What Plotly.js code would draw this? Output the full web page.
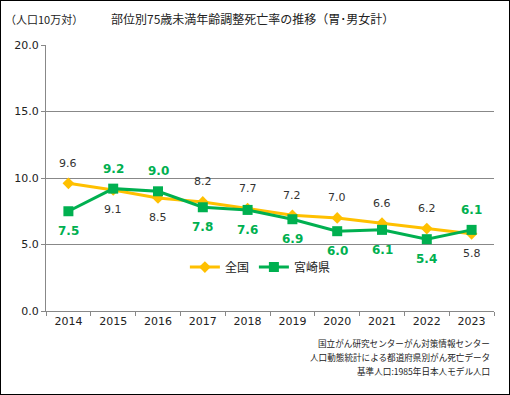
<!DOCTYPE html>
<html><head><meta charset="utf-8">
<script src="https://cdn.plot.ly/plotly-3.0.1.min.js"></script>
<style>
html,body{margin:0;padding:0;background:#fff;}
#wrap{position:relative;width:510px;height:395px;}
#chart{width:510px;height:395px;}
#frame{position:absolute;left:0;top:0;width:510px;height:395px;box-sizing:border-box;border:1px solid #000;pointer-events:none;}
</style></head>
<body>
<div id="wrap"><div id="chart"></div><div id="frame"></div></div>
<script>
const years = ['2014','2015','2016','2017','2018','2019','2020','2021','2022','2023'];
const national = [9.6, 9.1, 8.5, 8.2, 7.7, 7.2, 7.0, 6.6, 6.2, 5.8];
const miyazaki = [7.5, 9.2, 9.0, 7.8, 7.6, 6.9, 6.0, 6.1, 5.4, 6.1];
const nameNational = '全国';
const nameMiyazaki = '宮崎県';
const titleText = '部位別75歳未満年齢調整死亡率の推移（胃･男女計）';
const unitText = '（人口10万対）';
const sourceLines = ['国立がん研究センターがん対策情報センター','人口動態統計による都道府県別がん死亡データ','基準人口:1985年日本人モデル人口'];

// label placement (+1 above, -1 below)
const natSide = [1,-1,-1,1,1,1,1,1,1,-1];
const miySide = [-1,1,1,-1,-1,-1,-1,-1,-1,1];

const jp = '"Noto Sans CJK JP", "DejaVu Sans", sans-serif';
const num = '"DejaVu Sans", Verdana, sans-serif';
const green = '#00B050';
const orange = '#FFC000';

const traces = [
  {x: years, y: national, name: nameNational, type:'scatter', mode:'lines+markers',
   line:{color:orange, width:3}, marker:{symbol:'diamond', size:9, color:orange}},
  {x: years, y: miyazaki, name: nameMiyazaki, type:'scatter', mode:'lines+markers',
   line:{color:green, width:3}, marker:{symbol:'square', size:10, color:green}}
];

const ann = [];
years.forEach((yr,i)=>{
  ann.push({x: i, y: national[i], xref:'x', yref:'y', text: national[i].toFixed(1), showarrow:false,
    yshift: natSide[i]*20, font:{family:num, size:11, color:'#333'}});
  ann.push({x: i, y: miyazaki[i], xref:'x', yref:'y', text: '<b>'+miyazaki[i].toFixed(1)+'</b>', showarrow:false,
    yshift: miySide[i]*20, font:{family:num, size:12, color:green}});
});
ann.push({xref:'paper', yref:'paper', x:0.462, y:1.098, xanchor:'center', yanchor:'middle', showarrow:false,
  text:titleText, font:{family:jp, size:12, color:'#222'}});
ann.push({xref:'paper', yref:'paper', x:-0.095, y:1.098, xanchor:'left', yanchor:'middle', showarrow:false,
  text:unitText, font:{family:jp, size:11, color:'#222'}});
sourceLines.forEach((s,i)=>{
  ann.push({xref:'paper', yref:'paper', x:0.995, y:-0.12 - i*0.053, xanchor:'right', yanchor:'middle', showarrow:false,
    text:s, font:{family:jp, size:8.6, color:'#222'}});
});

const layout = {
  width:510, height:395,
  margin:{l:46, r:16, t:45, b:84},
  paper_bgcolor:'#fff', plot_bgcolor:'#fff',
  showlegend:true,
  legend:{orientation:'h', x:0.31, y:0.165, xanchor:'left', yanchor:'middle',
    font:{family:jp, size:12, color:'#222'}, bgcolor:'rgba(0,0,0,0)', itemwidth:30, tracegroupgap:0},
  xaxis:{type:'category', range:[-0.5, 9.5], tickson:'boundaries', ticks:'outside', ticklen:4, tickcolor:'#888',
    showline:true, linecolor:'#888', linewidth:1, showgrid:false, zeroline:false, tickangle:0,
    tickfont:{family:num, size:11, color:'#222'}, fixedrange:true},
  yaxis:{range:[0,20], dtick:5, tickformat:'.1f', ticks:'outside', ticklen:4, tickcolor:'#888',
    showline:true, linecolor:'#888', linewidth:1, showgrid:true, gridcolor:'#888', gridwidth:1,
    zeroline:false, tickfont:{family:num, size:11, color:'#222'}, fixedrange:true},
  annotations: ann
};
Plotly.newPlot('chart', traces, layout, {displayModeBar:false, staticPlot:true});
</script>
</body></html>
